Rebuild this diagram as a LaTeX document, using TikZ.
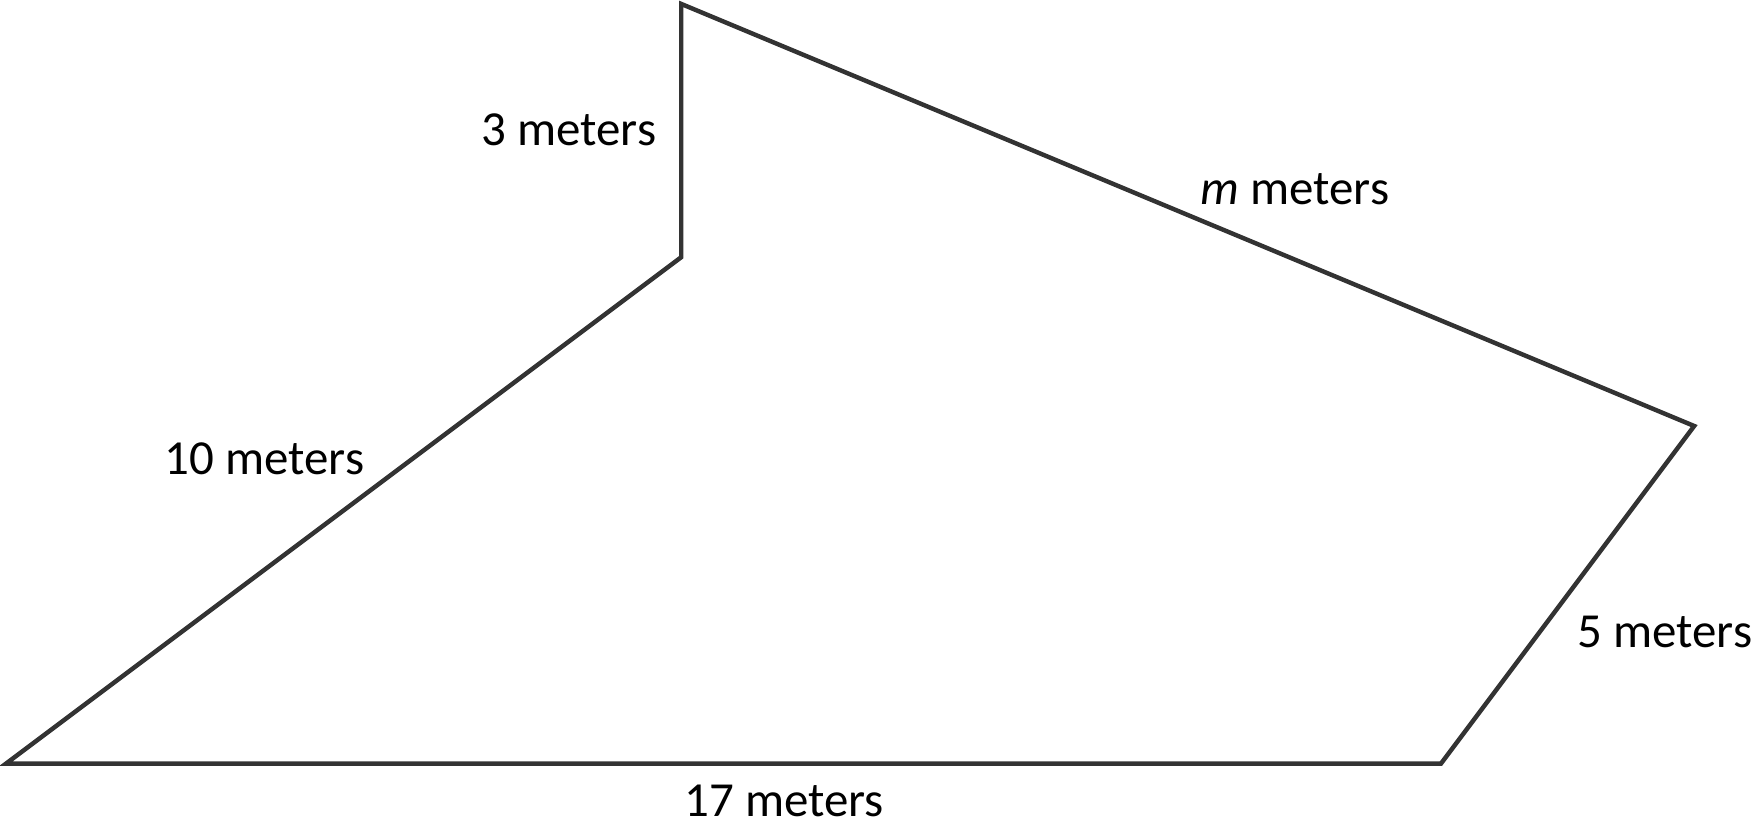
\documentclass[tikz,border=0pt]{standalone}
\usepackage{fontspec}
\setmainfont{Carlito}
\usepackage{tikz}
\tikzstyle{side} = [line width=1.5pt, black!80]
\tikzstyle{lbl} = [inner sep=0pt, font=\fontsize{16.5}{20}\selectfont]

\begin{document}
\begin{tikzpicture}
                \useasboundingbox (-0.071,-0.723) rectangle (20.78,9.047);
                \coordinate (A) at (0,0);
                \coordinate (B) at (17,0);
                \coordinate (C) at (20,4);
                \coordinate (D) at (8,9);
                \coordinate (E) at (8,6);
                \draw[side] (A) -- (B) -- (C) -- (D) -- (E) -- cycle;
                \node[lbl, anchor=east] (three) at (7.71,7.51) {3 meters};
                \node[lbl] (em) at (15.27,6.81) {\textit{m} meters};
                \node[lbl, anchor=east] (ten) at (4.25,3.61) {10 meters};
                \node[lbl, anchor=west] (five) at (18.61,1.56) {5 meters};
                \node[lbl] (seventeen) at (9.22,-0.44) {17 meters};
            \end{tikzpicture}
\end{document}
